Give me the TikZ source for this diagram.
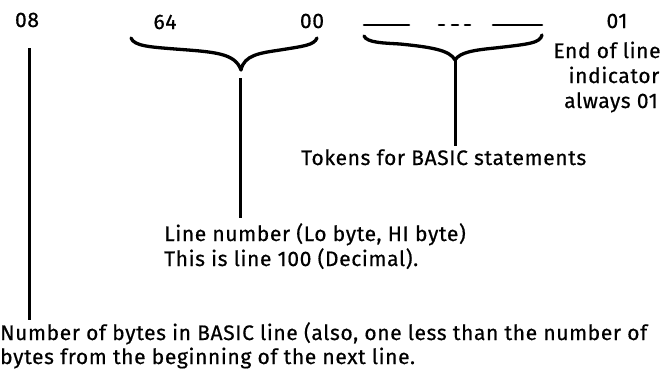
\documentclass[tikz,border=0pt]{standalone}
\usepackage{fontspec}
\setmainfont{Fira Sans}[LetterSpace=3, FakeBold=0.6]
\begin{document}
\begin{tikzpicture}[x=1pt,y=-1pt,
  lbl/.style={inner sep=0pt, font=\fontsize{21}{25}\selectfont},
  heavy/.style={line width=2.6pt, line cap=round, line join=round},
  bracestroke/.style={line width=3.3pt, line cap=round, line join=round},
  stem/.style={line width=3pt}]
\useasboundingbox (0,0) rectangle (667,370);
% top values
\node[lbl, anchor=base] (b08) at (27,27) {08};
\node[lbl, anchor=base] (b64) at (165,29) {64};
\node[lbl, anchor=base] (b00) at (312,28) {00};
\node[lbl, anchor=base] (b01) at (617,28) {01};
% end of line text
\node[lbl, anchor=base] (eol1) at (607,58) {End of line};
\node[lbl, anchor=base] (eol2) at (614,83) {indicator};
\node[lbl, anchor=base] (eol3) at (611,108) {always 01};
% tokens text
\node[lbl, anchor=base west] (tok) at (301,165) {Tokens for BASIC statements};
% line number text
\node[lbl, anchor=base west] (lnum) at (164,241) {Line number (Lo byte, HI byte)};
\node[lbl, anchor=base west] (lnum2) at (164,266) {This is line 100 (Decimal).};
% bottom text
\node[lbl, anchor=base west] (nbytes) at (0,340) {Number of bytes in BASIC line (also, one less than the number of};
\node[lbl, anchor=base west] (nbytes2) at (0,364) {bytes from the beginning of the next line.};
% brace 1
\coordinate (c1) at (241,70);
\draw[bracestroke] (131,38) .. controls (134,46) and (150,47) .. (175,49)
  .. controls (215,52) and (235,53) .. (c1)
  .. controls (244,55) and (260,53) .. (280,50)
  .. controls (305,46) and (314,45) .. (317,38);
\coordinate (s1) at (240,78);
\coordinate (e1) at (240,218);
\draw[stem] (s1) -- (e1);
% dashes
\draw[heavy] (364,25) -- (409,25);
\draw[heavy] (439,25) -- (444,25) (452,25) -- (458,25) (465,25) -- (470,25);
\draw[heavy] (493,25) -- (542,25);
% brace 2
\coordinate (c2) at (455,60);
\draw[bracestroke] (364,36) .. controls (367,43) and (385,43) .. (400,44)
  .. controls (430,47) and (450,50) .. (c2)
  .. controls (460,52) and (475,50) .. (495,48)
  .. controls (530,44) and (540,43) .. (542,35);
\coordinate (e2) at (455,146);
\draw[stem] (c2) -- (e2);
% left line
\coordinate (t08) at (29,48);
\coordinate (e3) at (29,320);
\draw[stem] (t08) -- (e3);
\end{tikzpicture}
\end{document}
